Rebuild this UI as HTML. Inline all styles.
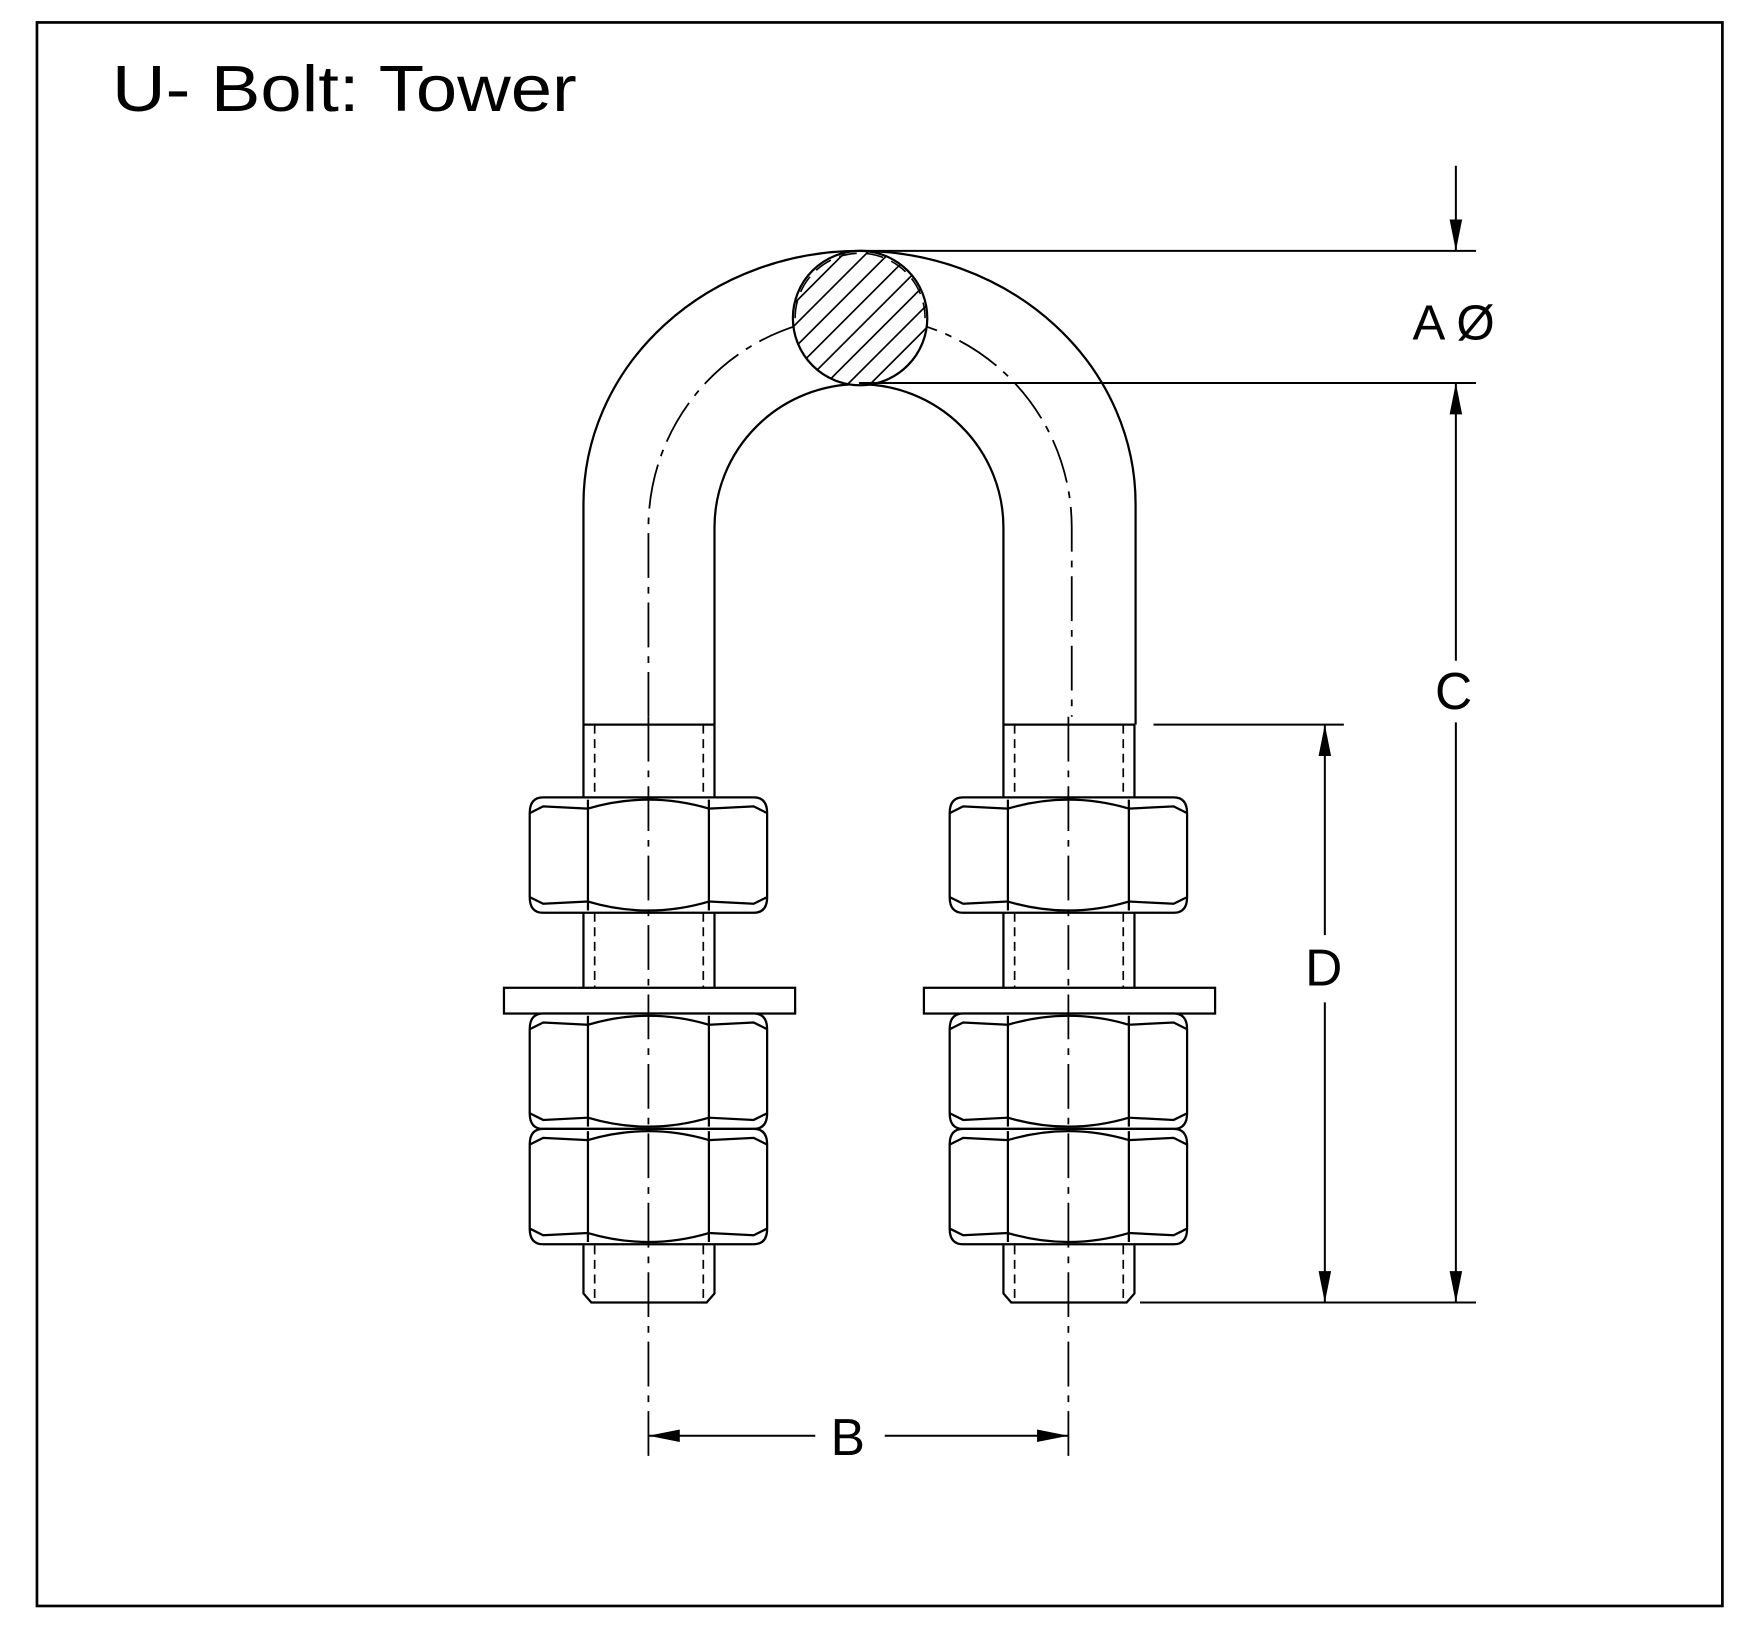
<!DOCTYPE html>
<html><head><meta charset="utf-8"><style>
html,body{margin:0;padding:0;background:#fff;}
svg{display:block;}
text{font-family:"Liberation Sans",Arial,sans-serif;fill:#000;}
</style></head><body>
<svg width="1756" height="1634" viewBox="0 0 1568 1459" xmlns="http://www.w3.org/2000/svg">
<defs>
<clipPath id="cc"><circle cx="768" cy="284" r="60"/></clipPath>
<marker id="ar" viewBox="0 0 20 10" refX="20" refY="5" markerWidth="28" markerHeight="14" markerUnits="userSpaceOnUse" orient="auto-start-reverse"><path d="M0,1 L20,5 L0,9 z" fill="#000"/></marker>
<g id="nut" fill="#fff" stroke="#000" stroke-width="2">
<path d="M485,0 H673 Q685,0 685,14 V89 Q685,103 673,103 H485 Q473,103 473,89 V14 Q473,0 485,0 z"/>
<line x1="525" y1="2" x2="525" y2="101"/>
<line x1="633" y1="2" x2="633" y2="101"/>
<path d="M525,10 Q579,-6 633,10" fill="none"/>
<path d="M525,93 Q579,109 633,93" fill="none"/>
<path d="M473,14 L485,8 L525,10" fill="none"/>
<path d="M685,14 L673,8 L633,10" fill="none"/>
<path d="M473,89 L485,95 L525,93" fill="none"/>
<path d="M685,89 L673,95 L633,93" fill="none"/>
</g>
<g id="leg" stroke="#000" stroke-width="2" fill="none">
<line x1="521" y1="647" x2="638" y2="647"/>
<line x1="521" y1="647" x2="521" y2="712"/><line x1="638" y1="647" x2="638" y2="712"/>
<line x1="531" y1="647" x2="531" y2="712" stroke-dasharray="8,5" stroke-width="1.5"/><line x1="628" y1="647" x2="628" y2="712" stroke-dasharray="8,5" stroke-width="1.5"/>
<line x1="521" y1="815" x2="521" y2="882"/><line x1="638" y1="815" x2="638" y2="882"/>
<line x1="531" y1="815" x2="531" y2="882" stroke-dasharray="8,5" stroke-width="1.5"/><line x1="628" y1="815" x2="628" y2="882" stroke-dasharray="8,5" stroke-width="1.5"/>
<use href="#nut" transform="translate(0,712)"/>
<rect x="450" y="882" width="260" height="23" fill="#fff"/>
<use href="#nut" transform="translate(0,905)"/>
<use href="#nut" transform="translate(0,1008)"/>
<path d="M521,1112 V1155 L528,1163 H631 L638,1155 V1112"/>
<line x1="531" y1="1112" x2="531" y2="1163" stroke-dasharray="8,5" stroke-width="1.5"/><line x1="628" y1="1112" x2="628" y2="1163" stroke-dasharray="8,5" stroke-width="1.5"/>
<line x1="579" y1="640" x2="579" y2="1305" stroke-dasharray="40,8,6,8" stroke-width="1.6"/>
</g>
</defs>
<rect x="33" y="20" width="1505" height="1414" fill="none" stroke="#000" stroke-width="2.4"/>
<text x="100" y="99" font-size="58" textLength="415" lengthAdjust="spacingAndGlyphs">U- Bolt: Tower</text>
<path d="M521,647 V450 A246.5,226 0 0 1 1014,450 V647" fill="none" stroke="#000" stroke-width="2"/>
<path d="M638,647 V471 A129,128 0 0 1 896,471 V647" fill="none" stroke="#000" stroke-width="2"/>
<path d="M579,640 V471 A189,189 0 0 1 957,471 V640" fill="none" stroke="#000" stroke-width="1.6" stroke-dasharray="40,8,6,8"/>
<circle cx="768" cy="284" r="60" fill="#fff" stroke="#000" stroke-width="2"/>
<g clip-path="url(#cc)" stroke="#000" stroke-width="1.5">
<line x1="660" y1="300" x2="760" y2="200"/><line x1="660" y1="320" x2="780" y2="200"/>
<line x1="660" y1="340" x2="800" y2="200"/><line x1="660" y1="360" x2="820" y2="200"/>
<line x1="670" y1="370" x2="840" y2="200"/><line x1="690" y1="370" x2="860" y2="200"/>
<line x1="710" y1="370" x2="870" y2="210"/><line x1="730" y1="370" x2="870" y2="230"/>
<line x1="750" y1="370" x2="870" y2="250"/><line x1="770" y1="370" x2="870" y2="270"/>
<line x1="660" y1="280" x2="740" y2="200"/><line x1="660" y1="260" x2="720" y2="200"/>
</g>
<path d="M710,284 A58,58 0 0 1 826,284" fill="none" stroke="#000" stroke-width="1.4" stroke-dasharray="16,8"/>
<use href="#leg"/>
<use href="#leg" transform="translate(375,0)"/>
<g stroke="#000" stroke-width="1.8" fill="none">
<line x1="767" y1="224" x2="1318" y2="224"/>
<line x1="767" y1="342" x2="1318" y2="342"/>
<line x1="1030" y1="647" x2="1200" y2="647"/>
<line x1="1018" y1="1163" x2="1318" y2="1163"/>
<line x1="1300" y1="148" x2="1300" y2="224" marker-end="url(#ar)"/>
<line x1="1300" y1="342" x2="1300" y2="590" marker-start="url(#ar)"/>
<line x1="1300" y1="645" x2="1300" y2="1163" marker-end="url(#ar)"/>
<line x1="1183" y1="647" x2="1183" y2="835" marker-start="url(#ar)"/>
<line x1="1183" y1="895" x2="1183" y2="1163" marker-end="url(#ar)"/>
<line x1="579" y1="1282" x2="728" y2="1282" marker-start="url(#ar)"/>
<line x1="790" y1="1282" x2="954" y2="1282" marker-end="url(#ar)"/>
</g>
<text x="1298" y="303" font-size="44" text-anchor="middle">A Ø</text>
<text x="1298" y="633" font-size="46" text-anchor="middle">C</text>
<text x="1182" y="880" font-size="46" text-anchor="middle">D</text>
<text x="757" y="1299" font-size="46" text-anchor="middle">B</text>
</svg>
</body></html>
